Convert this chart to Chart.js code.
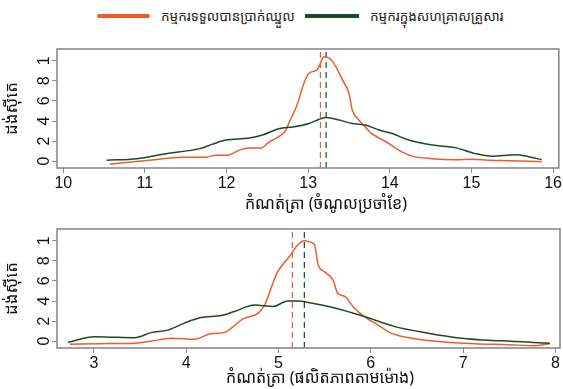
<!DOCTYPE html>
<html>
<head>
<meta charset="utf-8">
<script src="https://cdn.jsdelivr.net/npm/chart.js@4.4.1/dist/chart.umd.min.js"></script>
<style>
  body { margin: 0; background: #fff; width: 563px; height: 389px; position: relative; overflow: hidden;
         font-family: "Noto Sans Khmer", "Khmer OS", "Liberation Sans", Arial, sans-serif; color: #111; }
  #legend { position: absolute; top: 5px; left: 0; width: 563px; height: 22px; font-size: 13.5px; color: #222; }
  .key { position: absolute; top: 9px; height: 4px; }
  .lbl { position: absolute; top: 0; line-height: 22px; white-space: nowrap; }
  .box { position: absolute; left: 0; }
  .xtitle { position: absolute; font-size: 16px; line-height: 20px; white-space: nowrap; transform: translateX(-50%); }
</style>
</head>
<body>
<div id="legend">
  <div class="key" style="left:97px;width:53px;background:#f15a29;border-radius:2px"></div>
  <div class="lbl" style="left:161px">កម្មករទទួលបានប្រាក់ឈ្នួល</div>
  <div class="key" style="left:305px;width:54px;background:#1d4a26"></div>
  <div class="lbl" style="left:370px">កម្មករក្នុងសហគ្រាសគ្រួសារ</div>
</div>
<div class="box" style="top:30px"><canvas id="incomeChart" width="563" height="185"></canvas></div>
<div class="box" style="top:215px"><canvas id="productivityChart" width="563" height="174"></canvas></div>
<div class="xtitle" id="incomeTitle" style="left:326px;top:193px"></div>
<div class="xtitle" id="productivityTitle" style="left:320px;top:367px"></div>
<script>
var khmerFont = '"Noto Sans Khmer", "Khmer OS", "Liberation Sans", Arial, sans-serif';
var numFont = '"Liberation Sans", Arial, sans-serif';
var orange = '#f15a29';
var green = '#1d4a26';

// log monthly income
var incomeWageX = [10.57, 11.06, 11.47, 11.75, 11.87, 12.01, 12.16, 12.28, 12.42, 12.52, 12.65, 12.71, 12.77, 12.87, 12.95, 13.01, 13.11, 13.15, 13.19, 13.26, 13.34, 13.42, 13.50, 13.54, 13.62, 13.70, 13.77, 13.87, 13.99, 14.11, 14.27, 14.52, 14.80, 15.01, 15.21, 15.45, 15.86];
var incomeWageY = [-0.03, 0.01, 0.04, 0.04, 0.06, 0.06, 0.11, 0.13, 0.13, 0.19, 0.25, 0.29, 0.39, 0.575, 0.78, 0.875, 0.91, 0.975, 1.04, 1.025, 0.94, 0.81, 0.675, 0.51, 0.41, 0.34, 0.28, 0.23, 0.175, 0.11, 0.05, 0.025, 0.015, 0.02, 0.01, 0.005, -0.005];
var incomeFamilyX = [10.53, 10.90, 11.26, 11.67, 11.83, 11.99, 12.28, 12.44, 12.65, 12.81, 13.01, 13.13, 13.22, 13.38, 13.54, 13.70, 13.87, 14.03, 14.23, 14.52, 14.80, 15.05, 15.25, 15.54, 15.70, 15.86];
var incomeFamilyY = [0.01, 0.025, 0.075, 0.125, 0.17, 0.21, 0.23, 0.26, 0.325, 0.34, 0.375, 0.415, 0.435, 0.41, 0.375, 0.36, 0.31, 0.275, 0.21, 0.16, 0.135, 0.075, 0.05, 0.065, 0.045, 0.015];
var incomeMedians = [13.15, 13.22];
var incomeTicks = [10, 11, 12, 13, 14, 15, 16];

// log hourly productivity
var prodWageX = [2.74, 3.08, 3.44, 3.62, 3.84, 4.09, 4.27, 4.41, 4.51, 4.61, 4.78, 4.85, 4.94, 4.99, 5.12, 5.21, 5.28, 5.35, 5.39, 5.43, 5.50, 5.59, 5.64, 5.72, 5.82, 5.93, 6.08, 6.22, 6.44, 6.76, 7.12, 7.49, 7.77, 7.94];
var prodWageY = [-0.03, -0.025, -0.02, 0, 0.03, 0.02, 0.075, 0.085, 0.145, 0.22, 0.28, 0.36, 0.58, 0.69, 0.845, 0.96, 1.0, 0.985, 0.96, 0.76, 0.69, 0.61, 0.48, 0.445, 0.33, 0.245, 0.16, 0.08, 0.03, -0.005, -0.025, -0.035, -0.045, -0.025];
var prodFamilyX = [2.72, 3.01, 3.19, 3.44, 3.62, 3.80, 3.98, 4.16, 4.38, 4.52, 4.74, 4.94, 5.10, 5.21, 5.35, 5.61, 5.93, 6.26, 6.62, 6.98, 7.41, 7.94];
var prodFamilyY = [-0.01, 0.045, 0.04, 0.035, 0.085, 0.11, 0.18, 0.235, 0.255, 0.295, 0.36, 0.345, 0.40, 0.40, 0.38, 0.33, 0.245, 0.145, 0.08, 0.03, 0.003, -0.02];
var prodMedians = [5.15, 5.28];
var prodTicks = [3, 4, 5, 6, 7, 8];

var densityTicks = [0, 0.2, 0.4, 0.6, 0.8, 1];
var densityLabels = ['0', '2', '4', '6', '8', '1'];   // as printed in the source
var densityTitle = 'ដង់ស៊ីតេ';
var yMin = -0.068, yMax = 1.117;

function pairs(xs, ys) {
    return xs.map(function (x, i) { return { x: x, y: ys[i] }; });
}

var framePlugin = {
    id: 'frame',
    afterDraw: function (chart) {
        var a = chart.chartArea, c = chart.ctx;
        c.save();
        c.strokeStyle = '#8a8a8a';
        c.lineWidth = 1.6;
        c.strokeRect(a.left, a.top, a.right - a.left, a.bottom - a.top);
        c.restore();
    }
};

function densityChart(id, wage, family, medians, xTicks, xMin, xMax, padTop, xHeight) {
    var ctx = document.getElementById(id).getContext('2d');
    return new Chart(ctx, {
        type: 'line',
        data: {
            datasets: [{
                data: family,
                borderColor: green,
                borderWidth: 1.5,
                pointRadius: 0,
                cubicInterpolationMode: 'monotone'
            }, {
                data: wage,
                borderColor: orange,
                borderWidth: 1.5,
                pointRadius: 0,
                cubicInterpolationMode: 'monotone'
            }, {
                data: [{ x: medians[0], y: yMin }, { x: medians[0], y: yMax }],
                borderColor: orange,
                borderWidth: 1.2,
                borderDash: [6, 4],
                pointRadius: 0
            }, {
                data: [{ x: medians[1], y: yMin }, { x: medians[1], y: yMax }],
                borderColor: green,
                borderWidth: 1.2,
                borderDash: [6, 4],
                pointRadius: 0
            }]
        },
        options: {
            responsive: false,
            animation: false,
            layout: { padding: { top: padTop, right: 3, left: 0, bottom: 0 } },
            plugins: { legend: { display: false }, tooltip: { enabled: false } },
            scales: {
                x: {
                    type: 'linear',
                    min: xMin,
                    max: xMax,
                    afterBuildTicks: function (s) { s.ticks = xTicks.map(function (v) { return { value: v }; }); },
                    afterFit: function (s) { s.height = xHeight; },
                    grid: { display: true, drawOnChartArea: false, tickLength: 5, color: '#8a8a8a' },
                    border: { display: false },
                    ticks: { color: '#111', font: { family: numFont, size: 16 }, padding: 1, maxRotation: 0 }
                },
                y: {
                    min: yMin,
                    max: yMax,
                    afterBuildTicks: function (s) { s.ticks = densityTicks.map(function (v) { return { value: v }; }); },
                    afterFit: function (s) { s.width = 57; },
                    grid: { display: true, drawOnChartArea: false, tickLength: 5, color: '#8a8a8a' },
                    border: { display: false },
                    ticks: {
                        color: '#111', font: { family: numFont, size: 16 }, padding: 3,
                        minRotation: 90, maxRotation: 90, crossAlign: 'center',
                        callback: function (v) { return densityLabels[densityTicks.indexOf(v)]; }
                    },
                    title: { display: true, text: densityTitle, color: '#111', font: { family: khmerFont, size: 17 }, padding: { top: 2, bottom: 0 } }
                }
            }
        },
        plugins: [framePlugin]
    });
}

document.getElementById('incomeTitle').textContent = 'កំណត់ត្រា (ចំណូលប្រចាំខែ)';
document.getElementById('productivityTitle').textContent = 'កំណត់ត្រា (ផលិតភាពតាមម៉ោង)';

var incomeChart = densityChart('incomeChart',
    pairs(incomeWageX, incomeWageY), pairs(incomeFamilyX, incomeFamilyY),
    incomeMedians, incomeTicks, 9.923, 16.07, 19, 47);

var productivityChart = densityChart('productivityChart',
    pairs(prodWageX, prodWageY), pairs(prodFamilyX, prodFamilyY),
    prodMedians, prodTicks, 2.6, 8.05, 14, 41);
</script>
</body>
</html>
